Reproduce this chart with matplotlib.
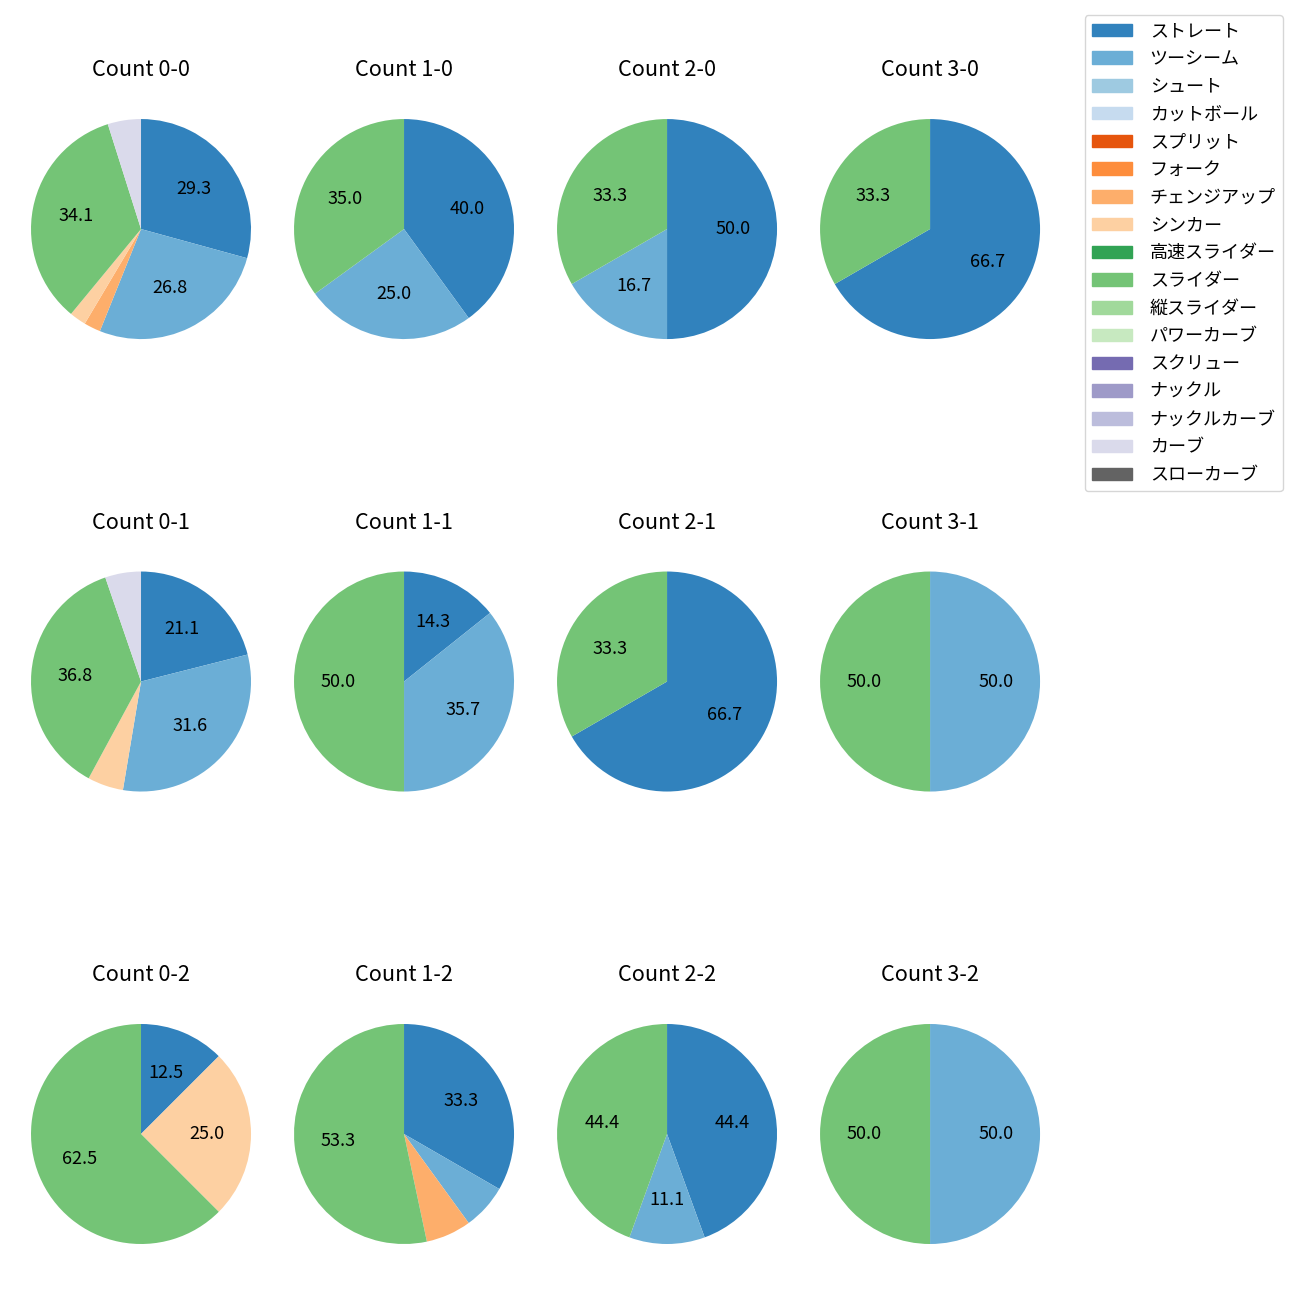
import numpy as np
import matplotlib
matplotlib.use("Agg")
import matplotlib.pyplot as plt
import matplotlib.patches as mpatches

plt.rcParams['font.family'] = ['Noto Sans CJK JP', 'DejaVu Sans']
plt.rcParams['font.size'] = 13

pitch_types = ['ストレート', 'ツーシーム', 'シュート', 'カットボール', 'スプリット', 'フォーク',
               'チェンジアップ', 'シンカー', '高速スライダー', 'スライダー', '縦スライダー',
               'パワーカーブ', 'スクリュー', 'ナックル', 'ナックルカーブ', 'カーブ', 'スローカーブ']

# pitch counts per ball-strike count, order follows pitch_types
counts_0_0 = [12, 11, 0, 0, 0, 0, 1, 1, 0, 14, 0, 0, 0, 0, 0, 2, 0]
counts_1_0 = [8, 5, 0, 0, 0, 0, 0, 0, 0, 7, 0, 0, 0, 0, 0, 0, 0]
counts_2_0 = [3, 1, 0, 0, 0, 0, 0, 0, 0, 2, 0, 0, 0, 0, 0, 0, 0]
counts_3_0 = [2, 0, 0, 0, 0, 0, 0, 0, 0, 1, 0, 0, 0, 0, 0, 0, 0]
counts_0_1 = [4, 6, 0, 0, 0, 0, 0, 1, 0, 7, 0, 0, 0, 0, 0, 1, 0]
counts_1_1 = [2, 5, 0, 0, 0, 0, 0, 0, 0, 7, 0, 0, 0, 0, 0, 0, 0]
counts_2_1 = [2, 0, 0, 0, 0, 0, 0, 0, 0, 1, 0, 0, 0, 0, 0, 0, 0]
counts_3_1 = [0, 1, 0, 0, 0, 0, 0, 0, 0, 1, 0, 0, 0, 0, 0, 0, 0]
counts_0_2 = [1, 0, 0, 0, 0, 0, 0, 2, 0, 5, 0, 0, 0, 0, 0, 0, 0]
counts_1_2 = [5, 1, 0, 0, 0, 0, 1, 0, 0, 8, 0, 0, 0, 0, 0, 0, 0]
counts_2_2 = [4, 1, 0, 0, 0, 0, 0, 0, 0, 4, 0, 0, 0, 0, 0, 0, 0]
counts_3_2 = [0, 1, 0, 0, 0, 0, 0, 0, 0, 1, 0, 0, 0, 0, 0, 0, 0]

grid = [
    [('0-0', counts_0_0), ('1-0', counts_1_0), ('2-0', counts_2_0), ('3-0', counts_3_0)],
    [('0-1', counts_0_1), ('1-1', counts_1_1), ('2-1', counts_2_1), ('3-1', counts_3_1)],
    [('0-2', counts_0_2), ('1-2', counts_1_2), ('2-2', counts_2_2), ('3-2', counts_3_2)],
]

colors = plt.get_cmap('tab20c').colors[:17]

fig, axes = plt.subplots(3, 4, figsize=(13, 13), dpi=100)
fig.subplots_adjust(left=0.0027, right=0.8212, top=0.9296, bottom=0.0219,
                    wspace=-0.0436, hspace=0.645)

for r, row in enumerate(grid):
    for c, (name, vals) in enumerate(row):
        ax = axes[r, c]
        vals = np.array(vals)
        keep = vals > 0
        ax.pie(vals[keep], colors=[col for col, k in zip(colors, keep) if k],
               startangle=90, counterclock=False,
               autopct=lambda p: f'{p:.1f}' if p > 10 else '')
        ax.set_title(f'Count {name}', pad=11)

handles = [mpatches.Patch(color=col, label=lab) for col, lab in zip(colors, pitch_types)]
fig.legend(handles=handles, loc='upper right', bbox_to_anchor=(0.9938, 0.9954),
           handlelength=2.2, handletextpad=1.0, labelspacing=0.54)

fig.savefig('out.png')
